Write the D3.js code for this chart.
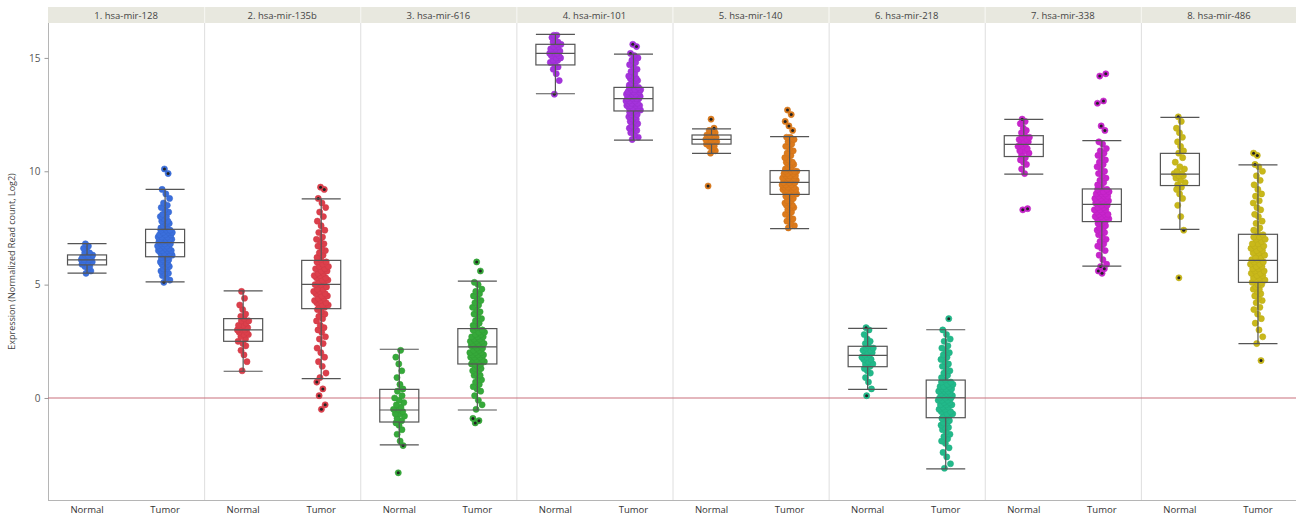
<!DOCTYPE html>
<html>
<head>
<meta charset="utf-8">
<script src="https://cdn.jsdelivr.net/npm/d3@7"></script>
<style>
  body { margin: 0; background: #fff; }
  svg { display: block; }
  text { font-family: "Open Sans", "DejaVu Sans", sans-serif; }
</style>
</head>
<body>
<div id="chart"></div>
<script>
// panels, groups, colours
const panels = ["1. hsa-mir-128", "2. hsa-mir-135b", "3. hsa-mir-616", "4. hsa-mir-101",
  "5. hsa-mir-140", "6. hsa-mir-218", "7. hsa-mir-338", "8. hsa-mir-486"];
const groups = ["Normal", "Tumor"];
const colors = ["#3b6fdc", "#dc3f4b", "#36a93a", "#a433dc", "#dc7a1c", "#22b98a", "#c824cc", "#c9b81a"];
const yTicks = [0, 5, 10, 15];

// box stats: [lower whisker, q1, median, q3, upper whisker]
const normalBox = [
  [5.51, 5.87, 6.09, 6.31, 6.81], [1.18, 2.50, 3.00, 3.50, 4.72], [-2.07, -1.06, -0.53, 0.38, 2.15],
  [13.42, 14.69, 15.20, 15.60, 16.04], [10.79, 11.20, 11.41, 11.60, 11.87], [0.38, 1.38, 1.88, 2.28, 3.07],
  [9.87, 10.65, 11.19, 11.57, 12.29], [7.44, 9.37, 9.87, 10.79, 12.38]];
const tumorBox = [
  [5.12, 6.23, 6.85, 7.44, 9.20], [0.85, 3.94, 5.01, 6.07, 8.78], [-0.53, 1.50, 2.25, 3.06, 5.15],
  [11.37, 12.66, 13.20, 13.70, 15.17], [7.47, 8.98, 9.51, 10.03, 11.53], [-3.13, -0.87, 0.01, 0.79, 3.01],
  [5.82, 7.78, 8.54, 9.22, 11.35], [2.40, 5.10, 6.07, 7.22, 10.28]];

// individual points (estimated)
const normal128 = [5.5,5.6,5.7,5.8,5.8,5.9,5.9,5.9,6.0,6.0,6.0,6.0,6.1,6.1,6.1,6.1,6.1,6.2,6.2,6.2,6.2,6.3,6.3,6.3,6.4,6.4,6.5,6.6,6.7,6.8];
const tumor128 = [5.1,5.2,5.3,5.4,5.5,5.5,5.6,5.7,5.7,5.8,5.8,5.9,5.9,6.0,6.0,6.0,6.1,6.1,6.2,6.2,
  6.2,6.3,6.3,6.3,6.4,6.4,6.4,6.5,6.5,6.5,6.5,6.6,6.6,6.6,6.7,6.7,6.7,6.8,6.8,6.8,
  6.9,6.9,6.9,7.0,7.0,7.0,7.0,7.1,7.1,7.1,7.1,7.2,7.2,7.2,7.3,7.3,7.3,7.4,7.4,7.4,
  7.5,7.5,7.6,7.6,7.7,7.7,7.8,7.8,7.9,8.0,8.0,8.1,8.2,8.3,8.4,8.5,8.6,8.8,9.0,9.2,9.9,10.1];
const normal135b = [1.2,1.6,1.9,2.1,2.3,2.4,2.5,2.6,2.7,2.8,2.8,2.9,2.9,3.0,3.0,3.0,3.1,3.1,3.2,3.2,3.3,3.4,3.4,3.5,3.6,3.7,3.9,4.1,4.4,4.7];
const tumor135b = [0.9,1.1,1.4,1.6,1.8,2.0,2.2,2.4,2.6,2.7,2.9,3.0,3.1,3.2,3.4,3.5,3.6,3.7,3.8,3.9,
  4.0,4.0,4.1,4.1,4.2,4.2,4.3,4.3,4.4,4.4,4.5,4.5,4.6,4.6,4.7,4.7,4.8,4.8,4.9,5.0,
  5.0,5.1,5.1,5.2,5.2,5.3,5.3,5.4,5.4,5.5,5.5,5.6,5.6,5.7,5.7,5.8,5.8,5.9,6.0,6.0,
  6.1,6.2,6.3,6.4,6.5,6.6,6.7,6.8,6.9,7.0,7.1,7.3,7.4,7.6,7.8,8.0,8.2,8.4,8.6,8.8,
  9.2,9.3,0.7,0.4,0.1,-0.3,-0.5];
const normal616 = [-3.3,-2.1,-1.9,-1.6,-1.4,-1.2,-1.1,-1.0,-0.9,-0.8,-0.7,-0.7,-0.6,-0.5,-0.5,-0.4,-0.3,-0.2,-0.1,0.0,0.1,0.3,0.4,0.6,0.9,1.2,1.5,1.8,2.1];
const tumor616 = [-0.5,-0.3,-0.1,0.1,0.3,0.4,0.5,0.6,0.7,0.8,0.9,1.0,1.0,1.1,1.2,1.2,1.3,1.3,1.4,1.5,
  1.5,1.5,1.6,1.6,1.7,1.7,1.7,1.8,1.8,1.8,1.9,1.9,1.9,2.0,2.0,2.0,2.1,2.1,2.2,2.2,
  2.3,2.3,2.3,2.4,2.4,2.4,2.5,2.5,2.5,2.6,2.6,2.7,2.7,2.7,2.8,2.8,2.9,2.9,3.0,3.0,
  3.1,3.2,3.3,3.4,3.5,3.6,3.7,3.8,3.9,4.0,4.1,4.2,4.3,4.4,4.5,4.6,4.7,4.8,5.0,5.1,
  5.6,6.0,-0.9,-1.0,-1.1];
const normal101 = [13.4,14.0,14.3,14.5,14.6,14.7,14.8,14.9,14.9,15.0,15.0,15.1,15.1,15.2,15.2,15.2,15.3,15.3,15.4,15.4,15.5,15.5,15.6,15.6,15.7,15.7,15.8,15.9,16.0,16.0];
const tumor101 = [11.4,11.5,11.6,11.7,11.8,11.9,11.9,12.0,12.0,12.1,12.2,12.2,12.3,12.3,12.4,12.4,12.5,12.5,12.6,12.6,
  12.7,12.7,12.7,12.8,12.8,12.8,12.8,12.9,12.9,12.9,12.9,13.0,13.0,13.0,13.0,13.1,13.1,13.1,13.2,13.2,
  13.2,13.2,13.3,13.3,13.3,13.3,13.4,13.4,13.4,13.4,13.5,13.5,13.5,13.5,13.6,13.6,13.6,13.6,13.7,13.7,
  13.8,13.8,13.9,13.9,14.0,14.0,14.1,14.1,14.2,14.2,14.3,14.4,14.5,14.6,14.7,14.8,14.9,15.0,15.1,15.2,
  15.5,15.6];
const normal140 = [10.8,10.9,11.0,11.1,11.1,11.2,11.2,11.2,11.3,11.3,11.3,11.4,11.4,11.4,11.4,11.5,11.5,11.5,11.5,11.6,11.6,11.6,11.7,11.7,11.8,11.9,12.3,9.35];
const tumor140 = [7.5,7.6,7.7,7.8,7.9,8.0,8.1,8.2,8.3,8.4,8.4,8.5,8.5,8.6,8.6,8.7,8.7,8.8,8.9,8.9,
  9.0,9.0,9.0,9.1,9.1,9.1,9.1,9.2,9.2,9.2,9.2,9.3,9.3,9.3,9.3,9.4,9.4,9.4,9.5,9.5,
  9.5,9.6,9.6,9.6,9.6,9.7,9.7,9.7,9.7,9.8,9.8,9.8,9.8,9.9,9.9,9.9,10.0,10.0,10.0,10.0,
  10.1,10.1,10.2,10.2,10.3,10.3,10.4,10.4,10.5,10.6,10.7,10.8,10.9,11.0,11.1,11.2,11.3,11.4,11.5,11.5,
  11.8,12.0,12.2,12.5,12.7];
const normal218 = [0.1,0.4,0.7,0.9,1.1,1.2,1.3,1.4,1.5,1.5,1.6,1.7,1.7,1.8,1.8,1.9,1.9,2.0,2.0,2.1,2.1,2.2,2.2,2.3,2.4,2.5,2.6,2.8,3.0,3.1];
const tumor218 = [-3.1,-2.9,-2.6,-2.4,-2.2,-2.0,-1.9,-1.8,-1.7,-1.6,-1.5,-1.4,-1.3,-1.3,-1.2,-1.1,-1.1,-1.0,-0.9,-0.9,
  -0.8,-0.8,-0.7,-0.7,-0.6,-0.6,-0.5,-0.5,-0.4,-0.4,-0.3,-0.3,-0.3,-0.2,-0.2,-0.1,-0.1,-0.1,0.0,0.0,
  0.0,0.1,0.1,0.1,0.2,0.2,0.2,0.3,0.3,0.3,0.4,0.4,0.4,0.5,0.5,0.5,0.6,0.6,0.7,0.7,
  0.8,0.9,1.0,1.1,1.2,1.3,1.4,1.5,1.6,1.7,1.8,1.9,2.0,2.1,2.2,2.3,2.5,2.6,2.8,3.0,
  3.5];
const normal338 = [8.3,8.35,9.9,10.1,10.3,10.4,10.5,10.6,10.7,10.8,10.9,10.9,11.0,11.1,11.1,11.2,11.2,11.3,11.3,11.4,11.4,11.5,11.5,11.6,11.7,11.8,11.9,12.1,12.2,12.3];
const tumor338 = [5.8,5.9,6.1,6.3,6.5,6.6,6.7,6.8,6.9,7.0,7.1,7.2,7.3,7.3,7.4,7.5,7.5,7.6,7.7,7.7,
  7.8,7.8,7.9,7.9,7.9,8.0,8.0,8.0,8.1,8.1,8.1,8.2,8.2,8.3,8.3,8.3,8.4,8.4,8.5,8.5,
  8.6,8.6,8.6,8.7,8.7,8.7,8.8,8.8,8.8,8.9,8.9,8.9,9.0,9.0,9.0,9.1,9.1,9.1,9.2,9.2,
  9.3,9.4,9.5,9.6,9.7,9.8,9.9,10.0,10.1,10.2,10.3,10.4,10.5,10.6,10.7,10.8,10.9,11.0,11.2,11.3,
  11.8,12.0,13.0,13.1,14.2,14.3,5.5,5.6,5.7];
const normal486 = [5.3,7.4,8.0,8.5,8.8,9.0,9.2,9.3,9.4,9.5,9.6,9.7,9.8,9.8,9.9,9.9,10.0,10.1,10.2,10.4,10.6,10.8,10.9,11.1,11.3,11.5,11.7,11.9,12.2,12.4];
const tumor486 = [2.4,2.7,3.0,3.3,3.5,3.7,3.9,4.0,4.2,4.3,4.4,4.5,4.6,4.7,4.8,4.8,4.9,5.0,5.0,5.1,
  5.1,5.2,5.2,5.3,5.3,5.4,5.4,5.5,5.5,5.6,5.6,5.7,5.7,5.8,5.8,5.9,5.9,6.0,6.0,6.1,
  6.1,6.2,6.2,6.3,6.4,6.4,6.5,6.5,6.6,6.6,6.7,6.7,6.8,6.8,6.9,7.0,7.0,7.1,7.1,7.2,
  7.3,7.4,7.5,7.7,7.8,8.0,8.1,8.3,8.4,8.6,8.7,8.9,9.0,9.2,9.4,9.6,9.8,10.0,10.2,10.3,
  1.65,10.7,10.8];

const normalPoints = [normal128, normal135b, normal616, normal101, normal140, normal218, normal338, normal486];
const tumorPoints = [tumor128, tumor135b, tumor616, tumor101, tumor140, tumor218, tumor338, tumor486];

////////////////////////////////////////////////////////////////////////////////
const WIDTH = 1296, HEIGHT = 518;
const plotTop = 23, plotBottom = 500, plotLeft = 48, plotRight = 1297;
const stripTop = 7;

var svg = d3.select("#chart").append("svg")
  .attr("width", WIDTH)
  .attr("height", HEIGHT);

var xPanel = d3.scaleBand().domain(panels).range([plotLeft, plotRight]).padding(0);
var xGroup = d3.scalePoint().domain(groups).range([0, xPanel.bandwidth()]).padding(0.5);
var y = d3.scaleLinear().domain([-4.5, 16.54]).range([plotBottom, plotTop]);
var boxW = xPanel.bandwidth() * 0.25;

// header strips
svg.selectAll(".strip")
  .data(panels)
  .enter().append("rect")
  .attr("x", d => xPanel(d))
  .attr("y", stripTop)
  .attr("width", xPanel.bandwidth())
  .attr("height", plotTop - stripTop)
  .attr("fill", "#e8e8df");

svg.selectAll(".stripLabel")
  .data(panels)
  .enter().append("text")
  .attr("x", d => xPanel(d) + xPanel.bandwidth() / 2)
  .attr("y", stripTop + 12)
  .attr("text-anchor", "middle")
  .attr("font-size", "9.5px")
  .attr("fill", "#444")
  .text(d => d);

// panel separators
svg.selectAll(".sep")
  .data(panels.slice(1))
  .enter().append("line")
  .attr("x1", d => xPanel(d) + 0.5).attr("x2", d => xPanel(d) + 0.5)
  .attr("y1", plotTop).attr("y2", plotBottom)
  .attr("stroke", "#dedede");
svg.selectAll(".sepStrip")
  .data(panels.slice(1))
  .enter().append("line")
  .attr("x1", d => xPanel(d) + 0.5).attr("x2", d => xPanel(d) + 0.5)
  .attr("y1", stripTop).attr("y2", plotTop)
  .attr("stroke", "#f6f6f2");

// frame
svg.append("line")
  .attr("x1", plotLeft).attr("x2", WIDTH)
  .attr("y1", plotBottom + 0.5).attr("y2", plotBottom + 0.5)
  .attr("stroke", "#b5b5b5");

// y axis
var yAxis = svg.append("g")
  .attr("transform", "translate(" + (plotLeft + 0.5) + ",0)")
  .call(d3.axisLeft(y).tickValues(yTicks).tickSize(4).tickPadding(4));
yAxis.select(".domain").attr("stroke", "#b5b5b5").attr("d", "M0," + plotTop + "V" + (plotBottom + 0.5));
yAxis.selectAll(".tick line").attr("stroke", "#999");
yAxis.selectAll(".tick text").attr("fill", "#555").attr("font-size", "10px")
  .attr("font-family", "'Open Sans', sans-serif");

svg.append("text")
  .attr("transform", "translate(15," + ((plotTop + plotBottom) / 2) + ") rotate(-90)")
  .attr("text-anchor", "middle")
  .attr("font-size", "9px")
  .attr("fill", "#444")
  .text("Expression (Normalized Read count, Log2)");

// reference line at 0
svg.append("line")
  .attr("x1", plotLeft).attr("x2", WIDTH)
  .attr("y1", y(0)).attr("y2", y(0))
  .attr("stroke", "#c9707c")
  .attr("stroke-width", 1.2);

// x labels
panels.forEach(function (p) {
  groups.forEach(function (g) {
    svg.append("text")
      .attr("x", xPanel(p) + xGroup(g))
      .attr("y", 513)
      .attr("text-anchor", "middle")
      .attr("font-size", "9.5px")
      .attr("fill", "#333")
      .text(g);
  });
});

// deterministic jitter offset in [-1, 1]
function jitter(i) {
  var f = (i * 0.6180339887 + 0.37) % 1;
  return f * 2 - 1;
}

function drawGroup(pi, gi, values, stats) {
  var cx = xPanel(panels[pi]) + xGroup(groups[gi]);
  var col = colors[pi];
  var half = gi === 0 ? 6 : 7.5;
  var g = svg.append("g");

  g.selectAll("circle")
    .data(values)
    .enter().append("circle")
    .attr("cx", function (d, i) {
      var inside = d >= stats[1] && d <= stats[3];
      var w = inside ? half : half * 0.65;
      return cx + jitter(i) * w;
    })
    .attr("cy", d => y(d))
    .attr("r", 3.1)
    .attr("fill", col)
    .attr("stroke", d3.color(col).darker(0.2))
    .attr("stroke-width", 0.5);

  // outliers get a dark centre
  g.selectAll(".out")
    .data(values.map((d, i) => [d, i]).filter(d => d[0] < stats[0] - 0.01 || d[0] > stats[4] + 0.01))
    .enter().append("circle")
    .attr("cx", function (d) { return cx + jitter(d[1]) * half * 0.65; })
    .attr("cy", d => y(d[0]))
    .attr("r", 1.5)
    .attr("fill", "#222");

  // box plot
  var bx = svg.append("g")
    .attr("fill", "none")
    .attr("stroke", "#555")
    .attr("stroke-width", 1.2);
  bx.append("rect")
    .attr("x", cx - boxW / 2).attr("width", boxW)
    .attr("y", y(stats[3])).attr("height", y(stats[1]) - y(stats[3]));
  bx.append("line")
    .attr("x1", cx - boxW / 2).attr("x2", cx + boxW / 2)
    .attr("y1", y(stats[2])).attr("y2", y(stats[2]));
  bx.append("line")
    .attr("x1", cx).attr("x2", cx)
    .attr("y1", y(stats[3])).attr("y2", y(stats[4]));
  bx.append("line")
    .attr("x1", cx).attr("x2", cx)
    .attr("y1", y(stats[1])).attr("y2", y(stats[0]));
  [stats[0], stats[4]].forEach(function (v) {
    bx.append("line")
      .attr("x1", cx - boxW / 2).attr("x2", cx + boxW / 2)
      .attr("y1", y(v)).attr("y2", y(v));
  });
}

panels.forEach(function (p, i) {
  drawGroup(i, 0, normalPoints[i], normalBox[i]);
  drawGroup(i, 1, tumorPoints[i], tumorBox[i]);
});
</script>
</body>
</html>
